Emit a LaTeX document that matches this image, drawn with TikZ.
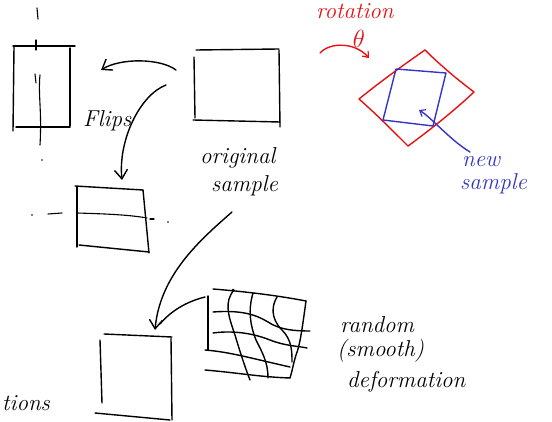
\documentclass[tikz,border=0pt]{standalone}
\usetikzlibrary{arrows.meta}
\definecolor{inkred}{RGB}{232,16,16}
\definecolor{inkblue}{RGB}{52,52,200}
\begin{document}
\begin{tikzpicture}[x=1pt,y=-1pt,
  ink/.style={line width=1.4pt,line cap=round,line join=round},
  thinink/.style={line width=1.1pt,line cap=round},
  barb/.style={-{Straight Barb[length=9pt,width=13pt,line width=1.4pt]}},
  smallbarb/.style={-{Straight Barb[length=5pt,width=8pt,line width=1.2pt]}},
  hand/.style={font=\fontsize{23}{25}\selectfont\itshape,inner sep=0pt}]
\useasboundingbox (0,0) rectangle (552,422);
\clip (0,0) rectangle (552,422);

% ---------- original sample ----------
\draw[ink] (196,50) -- (279,49);
\draw[ink] (194,57) -- (195,118);
\draw[ink] (279,50) -- (280,127);
\draw[ink] (193,120) -- (280,122);
\node[hand,anchor=base west] (orig) at (200,164) {original};
\node[hand,anchor=base west] (samp) at (211,192) {sample};

% ---------- vertical flip ----------
\draw[ink] (13,46) -- (75,46);
\draw[ink] (14,47) -- (13,131);
\draw[ink] (70,48) -- (70,126);
\draw[ink] (16,127) -- (70,127);
\draw[thinink] (37,8) -- (38,19);
\draw[thinink] (36,40) -- (36,50);
\draw[thinink] (35,74) -- (36,83);
\draw[thinink] (40,75) .. controls (38,95) and (42,110) .. (40,145);
\fill (42,160) circle (0.9pt);

% ---------- horizontal flip ----------
\draw[ink] (75,186) -- (143,190);
\draw[ink] (77,187) -- (77,247);
\draw[ink] (143,190) -- (149,253);
\draw[ink] (79,245) -- (149,252);
\fill (32,215) circle (0.9pt);
\draw[thinink] (48,214) -- (62,213);
\draw[thinink] (77,213) .. controls (110,214) and (130,215) .. (147,218);
\draw[thinink] (150,219) -- (154,219);
\fill (168,222) circle (0.9pt);

\node[hand,anchor=base west] (flips) at (83,127) {Flips};

% flip arrows
\coordinate (f1s) at (176,70);
\coordinate (f1e) at (101,70);
\draw[ink,barb] (f1s) .. controls (160,58) and (120,58) .. (f1e);
\coordinate (f2s) at (166,85);
\coordinate (f2e) at (122,180);
\draw[ink,barb] (f2s) .. controls (140,95) and (118,140) .. (f2e);

% ---------- result box ----------
\draw[ink] (104,334) -- (172,337);
\draw[ink] (100,340) -- (102,403);
\draw[ink] (171,338) -- (172,420);
\draw[ink] (95,413) -- (170,420);

\coordinate (d1s) at (232,212);
\coordinate (d1e) at (155,330);
\draw[ink,barb] (d1s) .. controls (200,240) and (160,275) .. (d1e);
\coordinate (d2s) at (205,297);
\coordinate (d2e) at (160,324);
\draw[ink] (d2s) .. controls (185,302) and (170,312) .. (d2e);

% ---------- deformation grid ----------
\fill (233,290) circle (1.3pt);
\draw[ink] (213,289) .. controls (250,292) and (280,296) .. (306,301);
\draw[ink] (213,312) .. controls (240,310) and (255,314) .. (268,322)
                     .. controls (280,330) and (295,331) .. (310,331);
\draw[ink] (213,333) .. controls (235,330) and (255,334) .. (270,340)
                     .. controls (285,346) and (298,346) .. (307,348);
\draw[ink] (205,350) .. controls (230,352) and (250,358) .. (290,367);
\draw[ink] (205,370) .. controls (240,373) and (260,377) .. (290,378);
\draw[ink] (208,296) -- (208,350);
\draw[ink] (234,290) .. controls (224,302) and (228,315) .. (235,335)
                     .. controls (240,352) and (246,370) .. (250,380);
\draw[ink] (253,293) .. controls (248,310) and (250,325) .. (256,340)
                     .. controls (262,352) and (268,362) .. (268,378);
\draw[ink] (277,297) .. controls (272,305) and (270,318) .. (282,330)
                     .. controls (292,340) and (292,352) .. (292,362);
\draw[ink] (306,301) .. controls (302,330) and (300,345) .. (296,355)
                     .. controls (293,365) and (292,372) .. (290,378);

\node[hand,anchor=base west] (rnd) at (340,333) {random};
\node[hand,anchor=base west] (smo) at (337,356) {(smooth)};
\node[hand,anchor=base west] (def) at (347,387) {deformation};
\node[hand,anchor=base west] (tns) at (2,410) {tions};

% ---------- rotation ----------
\node[hand,text=inkred,anchor=base west] (rot) at (316,19) {rotation};
\node[hand,text=inkred] (theta) at (359,39) {$\theta$};
\coordinate (r1s) at (320,53);
\coordinate (r1e) at (369,58);
\draw[ink,inkred,smallbarb] (r1s) .. controls (330,42) and (355,42) .. (r1e);

\draw[ink,inkred] (425,50) .. controls (440,65) and (458,80) .. (474,92);
\draw[ink,inkred] (474,92) .. controls (455,110) and (430,130) .. (408,146);
\draw[ink,inkred] (408,146) .. controls (392,130) and (375,113) .. (359,99);
\draw[ink,inkred] (359,99) .. controls (380,82) and (402,66) .. (425,50);

\draw[ink,inkblue] (396,69) -- (446,73) -- (433,126) -- (383,120) -- cycle;
\coordinate (b1s) at (470,152);
\coordinate (b1e) at (419,110);
\draw[ink,inkblue,smallbarb] (b1s) .. controls (450,140) and (432,118) .. (b1e);
\node[hand,text=inkblue,anchor=base west] (nw) at (462,167) {new};
\node[hand,text=inkblue,anchor=base west] (smp) at (460,190) {sample};
\end{tikzpicture}
\end{document}
